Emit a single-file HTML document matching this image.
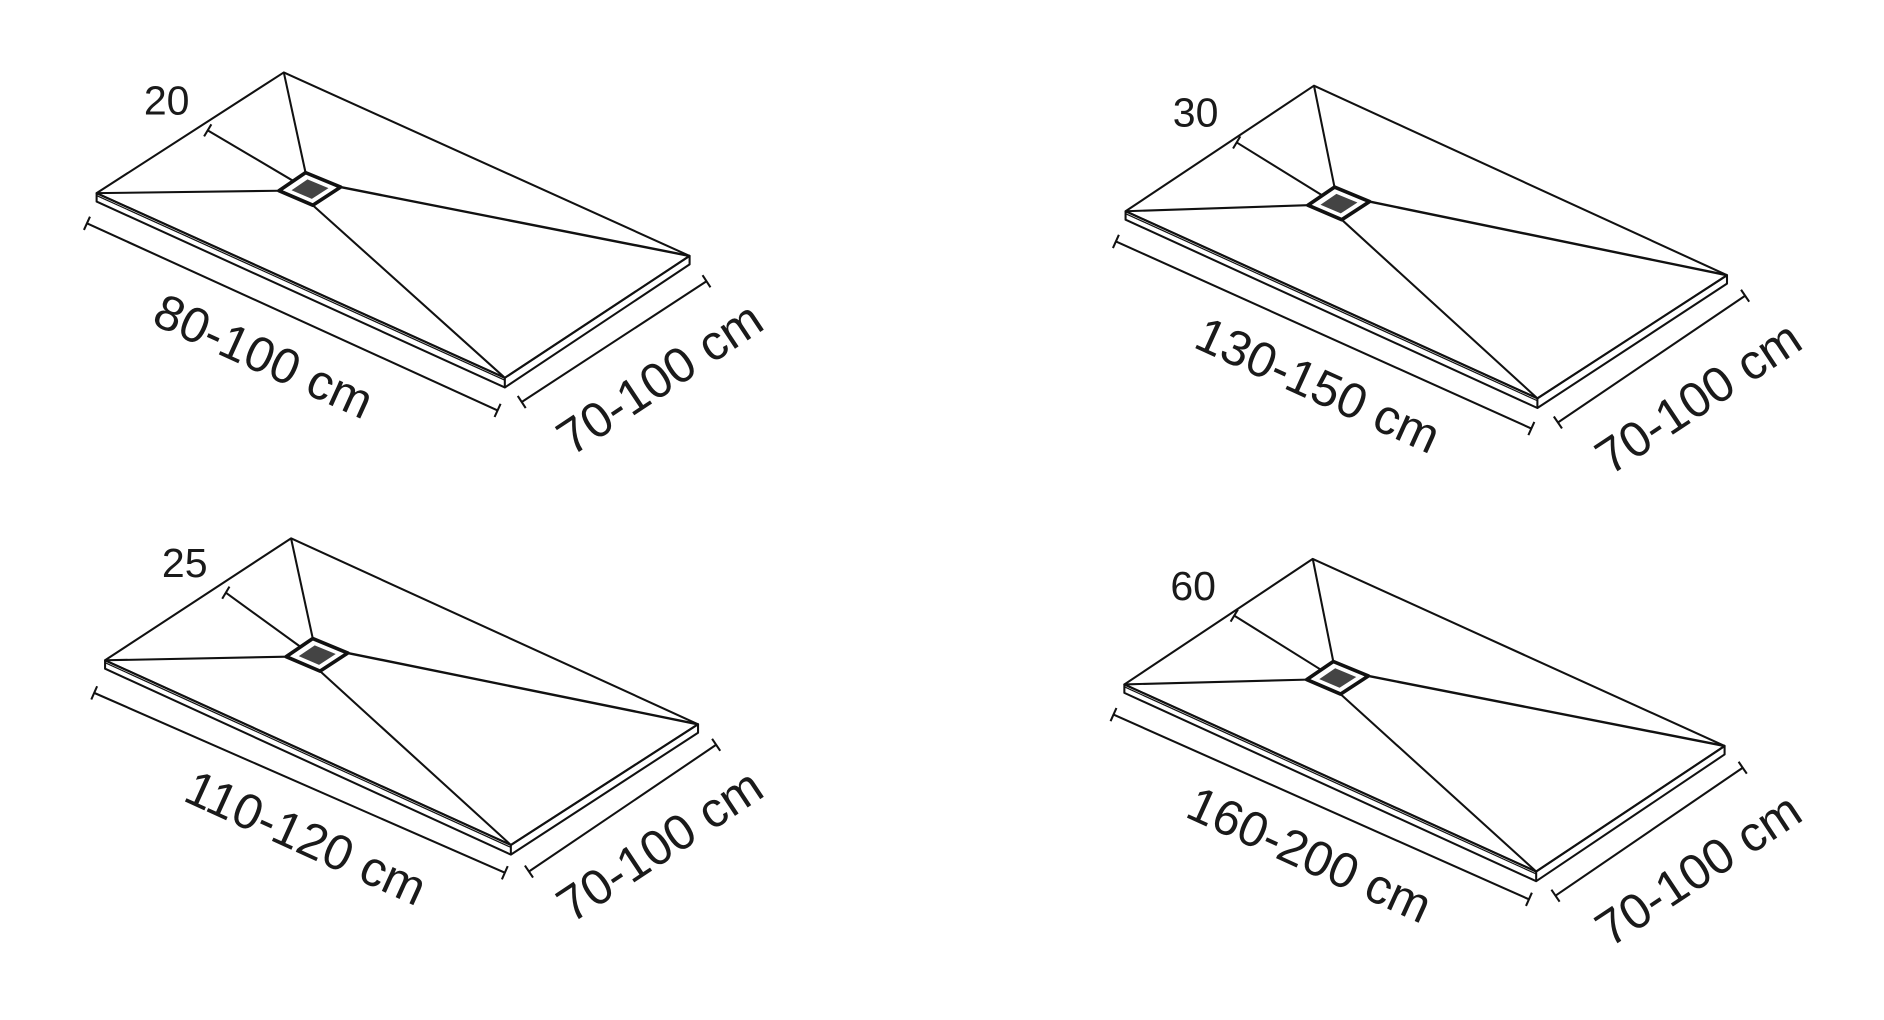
<!DOCTYPE html>
<html><head><meta charset="utf-8"><style>
html,body{margin:0;padding:0;background:#fff;}
svg{display:block;}
text{font-family:"Liberation Sans",sans-serif;fill:#1a1a1a;}
</style></head><body>
<svg id="s" width="1884" height="1020" viewBox="0 0 1560 845" preserveAspectRatio="none" xmlns="http://www.w3.org/2000/svg"></svg>
<script>
const shapes=[
 {T:[235,60],L:[80,160],R:[571,212],B:[418,313],D:[257,157],n:"20",np:[138,95],db:[[72,185],[412,340]],dr:[[432,333],[585,233]],lb:"80-100 cm",lbp:[217,298],lr:"70-100 cm",lrp:[548,316]},
 {T:[1088,71],L:[932,175],R:[1430,228],B:[1273,330],D:[1109,169],n:"30",np:[990,105],db:[[924,200],[1268,355]],dr:[[1290,350],[1445,245]],lb:"130-150 cm",lbp:[1090,322],lr:"70-100 cm",lrp:[1408,332]},
 {T:[241,446],L:[87,547],R:[578,600],B:[423,700],D:[263,543],n:"25",np:[153,478],db:[[78,574],[418,723]],dr:[[438,722],[593,617]],lb:"110-120 cm",lbp:[252,697],lr:"70-100 cm",lrp:[548,703]},
 {T:[1087,463],L:[931,567],R:[1428,618],B:[1272,722],D:[1108,562],n:"60",np:[988,497],db:[[922,592],[1266,745]],dr:[[1288,742],[1443,636]],lb:"160-200 cm",lbp:[1083,711],lr:"70-100 cm",lrp:[1408,723]}
];
let h='';
const p=a=>a[0]+','+a[1];
function tick(a,b){const dx=b[0]-a[0],dy=b[1]-a[1],l=Math.hypot(dx,dy),nx=-dy/l*6,ny=dx/l*6;
 return `<line x1="${a[0]+nx}" y1="${a[1]+ny}" x2="${a[0]-nx}" y2="${a[1]-ny}"/>`+`<line x1="${b[0]+nx}" y1="${b[1]+ny}" x2="${b[0]-nx}" y2="${b[1]-ny}"/>`;}
for(const s of shapes){
 const{T,L,R,B,D}=s;
 const dt=[D[0]-4,D[1]-14],drr=[D[0]+25,D[1]-2],dbm=[D[0]+2,D[1]+13],dl=[D[0]-26,D[1]+1];
 const off=(a,k)=>[a[0],a[1]+k];
 h+=`<g stroke="#111" stroke-width="1.7" fill="none" stroke-linejoin="round">`;
 h+=`<polygon fill="#fff" points="${p(L)} ${p(B)} ${p(R)} ${p(off(R,7))} ${p(off(B,8))} ${p(off(L,7))}"/>`;
 h+=`<polygon points="${p(T)} ${p(R)} ${p(B)} ${p(L)}"/>`;
 h+=`<line x1="${L[0]}" y1="${L[1]+2}" x2="${B[0]}" y2="${B[1]+2}" stroke-width="1"/>`;
 h+=`<line x1="${B[0]}" y1="${B[1]}" x2="${B[0]}" y2="${B[1]+8}"/>`;
 h+=`<line x1="${T[0]}" y1="${T[1]}" x2="${dt[0]}" y2="${dt[1]}"/>`;
 h+=`<line x1="${L[0]}" y1="${L[1]}" x2="${dl[0]}" y2="${dl[1]}"/>`;
 h+=`<line x1="${R[0]}" y1="${R[1]}" x2="${drr[0]}" y2="${drr[1]}" stroke-width="2"/>`;
 h+=`<line x1="${B[0]}" y1="${B[1]}" x2="${dbm[0]}" y2="${dbm[1]}"/>`;
 h+=`<polygon stroke-width="3" fill="#fff" points="${p(dt)} ${p(drr)} ${p(dbm)} ${p(dl)}"/>`;
 const c=(a,k)=>[D[0]+(a[0]-D[0])*k,D[1]+(a[1]-D[1])*k];
 h+=`<polygon stroke="none" fill="#444" points="${p(c(dt,.6))} ${p(c(drr,.6))} ${p(c(dbm,.6))} ${p(c(dl,.6))}"/>`;
 const a=[s.np[0]+34,s.np[1]+13], e=[dl[0]+12,dl[1]-8];
 h+=`<line x1="${a[0]}" y1="${a[1]}" x2="${e[0]}" y2="${e[1]}"/>`;
 h+=`<line x1="${a[0]-3}" y1="${a[1]+5}" x2="${a[0]+3}" y2="${a[1]-5}"/>`;
 h+=`<line x1="${s.db[0][0]}" y1="${s.db[0][1]}" x2="${s.db[1][0]}" y2="${s.db[1][1]}"/>`+tick(s.db[0],s.db[1]);
 h+=`<line x1="${s.dr[0][0]}" y1="${s.dr[0][1]}" x2="${s.dr[1][0]}" y2="${s.dr[1][1]}"/>`+tick(s.dr[0],s.dr[1]);
 h+=`</g>`;
 h+=`<text x="${s.np[0]}" y="${s.np[1]}" font-size="34" text-anchor="middle">${s.n}</text>`;
 h+=`<text transform="translate(${s.lbp[0]},${s.lbp[1]}) rotate(24.4)" font-size="41" text-anchor="middle" dominant-baseline="middle">${s.lb}</text>`;
 h+=`<text transform="translate(${s.lrp[0]},${s.lrp[1]}) rotate(-33.5)" font-size="41" text-anchor="middle" dominant-baseline="middle">${s.lr}</text>`;
}
document.getElementById('s').innerHTML=h;
</script>
</body></html>
